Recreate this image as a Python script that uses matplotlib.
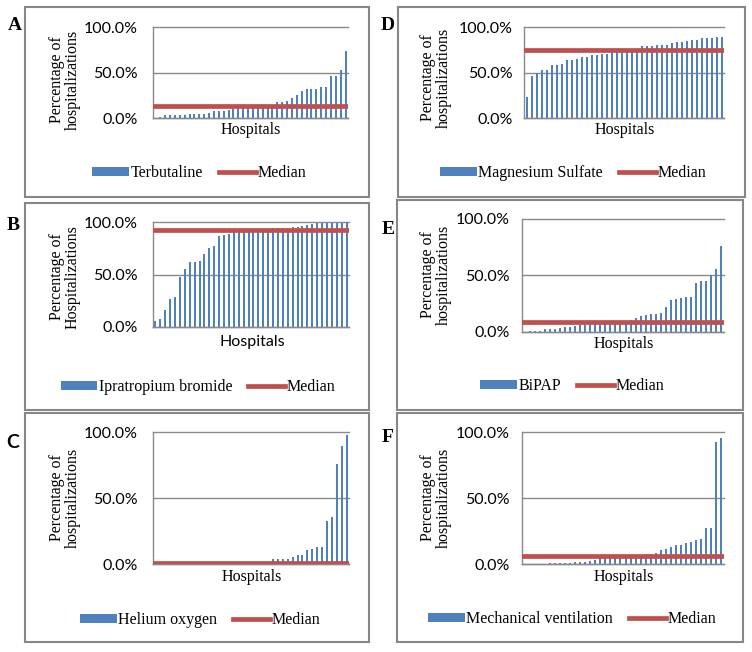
import matplotlib

matplotlib.use("Agg")
import matplotlib.pyplot as plt
import numpy as np
from matplotlib.lines import Line2D
from matplotlib.patches import Patch, Rectangle
from matplotlib.ticker import PercentFormatter

W, H = 752, 652
BLUE = "#4f81bd"
RED = "#c0504d"
GRID = "#8a8a8a"
BORDER = "#878787"
SERIF = "Liberation Serif"
SANS = "Lato"

# percentage of hospitalizations per hospital (40 hospitals, sorted)
terbutaline = [0.5, 1, 3, 3, 3.5, 3.5, 3.5, 4, 4, 4.5, 4.5, 6, 8, 8, 8, 8.5,
               9.5, 11, 12.5, 13, 13, 13.5, 13.5, 13.5, 14, 18, 18, 18.5, 22,
               25, 30, 31.5, 31.5, 32, 34, 34, 46, 46, 53, 74]
magnesium = [23, 46, 50, 53, 53, 58, 58.5, 59.5, 63.5, 63.5, 65, 67.5, 67.5,
             69, 69.5, 70, 70, 74, 74.5, 74.5, 75, 75, 75, 79, 79.5, 79.5, 80,
             80, 80.5, 82, 83, 84, 84.5, 85.5, 86, 87.5, 87.5, 88, 88.5, 89]
ipratropium = [5.4, 7.6, 16.5, 26.7, 28.6, 47.3, 55, 62, 62, 62.7, 69.5, 75,
               77.5, 86.7, 88, 88.6, 91, 91.5, 91.5, 92, 92, 92.5, 93.6, 93.8,
               94, 94.2, 94.4, 94.6, 95, 95.5, 95.9, 97.5, 98.4, 98.7, 98.7,
               98.7, 99.4, 99.4, 99.4, 100]
bipap = [0.3, 0.9, 1.2, 1.2, 2.4, 2.7, 2.7, 3.3, 4.5, 4.8, 5.4, 6, 6, 6.8,
         7.4, 8, 8.3, 8.6, 8.8, 9, 9.2, 11, 12.5, 14.3, 15.2, 15.8, 16, 16.4,
         22.3, 28, 29.2, 30.4, 30.7, 31, 43, 45, 45.5, 50, 55.4, 76.5]
helium = [0, 0, 0, 0, 0, 0, 0, 0, 0, 0, 0, 0, 0.2, 0.3, 0.5, 0.6, 0.8, 0.9,
          1, 1.1, 1.2, 1.3, 1.5, 1.8, 3.5, 3.8, 3.8, 3.8, 5, 6.8, 6.8, 10.6,
          11, 12.6, 13.1, 32.5, 35.3, 75.6, 89.4, 97.5]
ventilation = [0, 0, 0.1, 0.3, 0.3, 0.5, 0.5, 0.7, 0.8, 1.0, 1.2, 1.5, 1.8,
               2.3, 3.0, 4.3, 5.5, 5.8, 6, 6, 6.2, 6.3, 6.5, 6.8, 7.2, 7.6,
               8.1, 10.4, 11.6, 12.9, 14.4, 14.7, 16.2, 17, 18.5, 19, 27.3,
               27.6, 92.4, 95.4]

medians = {"A": 13.6, "D": 74.8, "B": 92.4, "E": 9.2, "C": 1.0, "F": 6.3}
series_names = {
    "A": "Terbutaline",
    "D": "Magnesium Sulfate",
    "B": "Ipratropium bromide",
    "E": "BiPAP",
    "C": "Helium oxygen",
    "F": "Mechanical ventilation",
}
series_values = {"A": terbutaline, "D": magnesium, "B": ipratropium,
                 "E": bipap, "C": helium, "F": ventilation}

# layout in pixels (x from left, y from top)
PANELS = [
    dict(key="A", box=(25, 7, 369, 197), plot=(153, 27, 348, 118),
         letter=(15, 25), letter_family=SERIF, ylab=(65, 80),
         ylabel="Percentage of\nhospitalizations", hosp=(251, 130),
         hosp_family=SERIF, legend=(199, 173), pad=11),
    dict(key="D", box=(398, 7, 745, 197), plot=(524, 27, 724, 118),
         letter=(388, 25), letter_family=SERIF, ylab=(436, 78),
         ylabel="Percentage of\nhospitalizations", hosp=(625, 130),
         hosp_family=SERIF, legend=(573, 173), pad=8),
    dict(key="B", box=(25, 203, 369, 410), plot=(153, 222, 349, 327),
         letter=(13, 226), letter_family=SERIF, ylab=(65, 277),
         ylabel="Percentage of\nHospitalizations", hosp=(252, 342),
         hosp_family=SANS, legend=(198, 387), pad=11),
    dict(key="E", box=(397, 200, 743, 410), plot=(522, 219, 724, 332),
         letter=(388, 229), letter_family=SERIF, ylab=(436, 275),
         ylabel="Percentage of\nhospitalizations", hosp=(624, 344),
         hosp_family=SERIF, legend=(572, 386), pad=9),
    dict(key="C", box=(25, 413, 369, 642), plot=(153, 432, 349, 564),
         letter=(13, 442), letter_family=SANS, ylab=(65, 498),
         ylabel="Percentage of\nhospitalizations", hosp=(252, 577),
         hosp_family=SERIF, legend=(200, 620), pad=11),
    dict(key="F", box=(397, 413, 743, 642), plot=(522, 432, 724, 564),
         letter=(388, 438), letter_family=SERIF, ylab=(436, 498),
         ylabel="Percentage of\nhospitalizations", hosp=(624, 577),
         hosp_family=SERIF, legend=(572, 619), pad=9),
]


def fx(x):
    return x / W


def fy(y):
    return 1 - y / H


def draw_panel(fig, p):
    key = p["key"]
    values = series_values[key]

    x0, y0, x1, y1 = p["box"]
    fig.patches.append(Rectangle((fx(x0), fy(y1)), (x1 - x0) / W, (y1 - y0) / H,
                                 transform=fig.transFigure, fill=False,
                                 edgecolor=BORDER, linewidth=1.5))

    l, t, r, b = p["plot"]
    ax = fig.add_axes([fx(l), fy(b), (r - l) / W, (b - t) / H])
    pos = np.arange(len(values))
    ax.bar(pos, values, width=0.4, color=BLUE, zorder=2)
    ax.axhline(medians[key], color=RED, linewidth=3.4, zorder=3)

    ax.set_xlim(-0.5, len(values) - 0.5)
    ax.set_ylim(0, 100)
    ax.set_yticks([0, 50, 100])
    ax.yaxis.set_major_formatter(PercentFormatter(100, decimals=1))
    ax.set_xticks([])
    ax.tick_params(axis="y", length=0, pad=p["pad"], labelsize=11.5)
    ax.grid(axis="y", color=GRID, linewidth=1)
    for gl in ax.get_ygridlines():
        gl.set_clip_on(False)
    ax.set_axisbelow(True)
    for side in ("top", "right"):
        ax.spines[side].set_visible(False)
    for side in ("left", "bottom"):
        ax.spines[side].set_color(GRID)
        ax.spines[side].set_linewidth(1)
    ax.patch.set_alpha(0)

    fig.text(fx(p["letter"][0]), fy(p["letter"][1]), key, ha="center",
             va="center", fontsize=14, fontweight="bold",
             family=p["letter_family"])
    fig.text(fx(p["ylab"][0]), fy(p["ylab"][1]), p["ylabel"], rotation=90,
             ha="center", va="center", fontsize=11.5, family=SERIF,
             linespacing=1.0)
    hosp_size = 11.5 if p["hosp_family"] == SERIF else 11.5
    fig.text(fx(p["hosp"][0]), fy(p["hosp"][1]), "Hospitals", ha="center",
             va="center", fontsize=hosp_size, family=p["hosp_family"])

    handles = [Patch(facecolor=BLUE, edgecolor="none"),
               Line2D([], [], color=RED, linewidth=3.4)]
    fig.legend(handles, [series_names[key], "Median"], loc="center",
               bbox_to_anchor=(fx(p["legend"][0]), fy(p["legend"][1])),
               ncol=2, frameon=False, prop={"family": SERIF, "size": 11.5},
               handlelength=2.3, handleheight=0.5, handletextpad=0.1,
               columnspacing=1.0, borderpad=0, borderaxespad=0)


def build_plot():
    plt.rcParams["font.family"] = SANS
    fig = plt.figure(figsize=(W / 100, H / 100), dpi=100)
    for p in PANELS:
        draw_panel(fig, p)
    fig.savefig("out.png", dpi=100)
    plt.close(fig)


if __name__ == "__main__":
    build_plot()
